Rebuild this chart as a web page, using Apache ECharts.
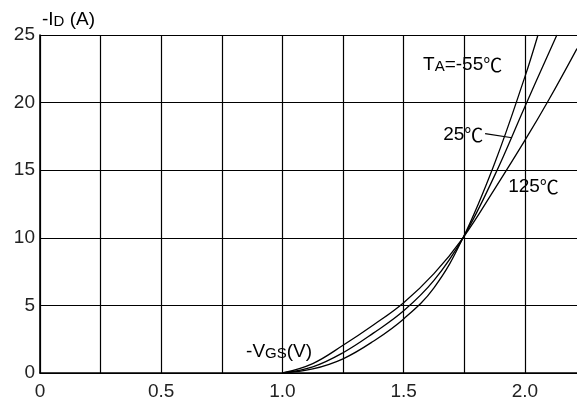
<!DOCTYPE html>
<html>
<head>
<meta charset="utf-8">
<script src="https://cdn.jsdelivr.net/npm/echarts@6/dist/echarts.min.js"></script>
<style>
html,body{margin:0;padding:0;background:#fff;}
#c{width:577px;height:401px;}
</style>
</head>
<body>
<div id="c"></div>
<script>
// -VGS (V) and -ID (A) readings per temperature
const vgs125 = [1.0, 1.125, 1.25, 1.375, 1.5, 1.625, 1.745, 1.875, 2.0, 2.1, 2.215];
const id125  = [0, 0.7, 2.05, 3.55, 5.2, 7.35, 10.0, 13.6, 17.2, 20.25, 24.0];
const vgs25  = [1.0, 1.125, 1.25, 1.375, 1.5, 1.625, 1.745, 1.875, 2.0, 2.132];
const id25   = [0, 0.45, 1.5, 2.95, 4.6, 6.85, 10.0, 14.6, 19.7, 25.0];
const vgsM55 = [1.0, 1.125, 1.25, 1.375, 1.5, 1.625, 1.745, 1.875, 2.0, 2.054];
const idM55  = [0, 0.3, 1.05, 2.35, 4.0, 6.3, 10.0, 15.5, 21.9, 25.0];

const xMin = 0, xMax = 2.215, xStep = 0.25;
const yMin = 0, yMax = 25, yStep = 5;

const zip = (a, b) => a.map((v, i) => [v, b[i]]);
const FONT = '"Liberation Sans", Arial, sans-serif';
const TXT = '#222';

const chart = echarts.init(document.getElementById('c'), null, {renderer: 'canvas'});

const mkSeries = (name, xs, ys) => ({
  name, type: 'line', data: zip(xs, ys), smooth: 0.4,
  showSymbol: false, symbol: 'none',
  lineStyle: {color: '#000', width: 1.3}, clip: true, animation: false
});

// split line colours: hide the one at the max edge
const nXTicks = Math.floor((xMax - xMin) / xStep + 1e-9) + 2;
const xSplitColors = Array.from({length: nXTicks}, (_, i) => i === nXTicks - 1 ? 'rgba(0,0,0,0)' : '#000');

chart.setOption({
  animation: false,
  grid: {left: 40, right: 0, top: 35, bottom: 26, containLabel: false},
  xAxis: {
    type: 'value', min: xMin, max: xMax, interval: xStep,
    axisLine: {show: true, lineStyle: {color: '#000', width: 1.6}},
    axisTick: {show: false},
    splitLine: {show: true, lineStyle: {color: xSplitColors, width: 1.2}},
    axisLabel: {
      margin: 9, color: TXT, fontSize: 19, fontFamily: FONT,
      showMaxLabel: false,
      formatter: v => {
        const r = v / 0.5;
        if (Math.abs(r - Math.round(r)) > 1e-6) return '';
        return v === 0 ? '0' : v.toFixed(1);
      }
    }
  },
  yAxis: {
    type: 'value', min: yMin, max: yMax, interval: yStep,
    axisLine: {show: true, lineStyle: {color: '#000', width: 1.6}},
    axisTick: {show: false},
    splitLine: {show: true, lineStyle: {color: '#000', width: 1.2}},
    axisLabel: {margin: 5, color: TXT, fontSize: 19, fontFamily: FONT}
  },
  series: [
    mkSeries('125', vgs125, id125),
    mkSeries('25', vgs25, id25),
    mkSeries('-55', vgsM55, idM55)
  ]
});

// annotation anchors in data coordinates
const annTA = [1.58, 22.9];
const ann25 = [1.663, 17.7];
const lead25 = [[1.836, 17.7], [1.947, 17.4]];
const ann125 = [1.931, 13.9];
const annVgs = [0.85, 1.7];

const px = p => chart.convertToPixel({gridIndex: 0}, p);
const big = {fontSize: 19, fontFamily: FONT, color: TXT, verticalAlign: 'bottom', lineHeight: 22};
const small = {fontSize: 15, fontFamily: FONT, color: TXT, verticalAlign: 'bottom', lineHeight: 21};
const deg = {fontSize: 19, fontFamily: '"Noto Sans CJK SC", "DejaVu Sans", sans-serif', color: TXT, verticalAlign: 'bottom', lineHeight: 22};

const rt = (pos, text, align) => ({
  type: 'text', x: pos[0], y: pos[1],
  style: {text, rich: {a: big, b: small, d: deg}, align: align || 'left', verticalAlign: 'middle'},
  z: 10
});

const pTA = px(annTA), p25 = px(ann25), p125 = px(ann125), pV = px(annVgs);
const l0 = px(lead25[0]), l1 = px(lead25[1]);
const gridTop = 35;

chart.setOption({
  graphic: [
    rt(pTA, '{a|T}{b|A}{a|=-55}{d|℃}'),
    rt(p25, '{a|25}{d|℃}'),
    rt(p125, '{a|125}{d|℃}'),
    rt(pV, '{a|-V}{b|GS}{a|(V)}'),
    rt([42, gridTop - 17], '{a|-I}{b|D}{a| (A)}'),
    {type: 'line', shape: {x1: l0[0], y1: l0[1], x2: l1[0], y2: l1[1]},
     style: {stroke: '#000', lineWidth: 1.2}, z: 10}
  ]
});
</script>
</body>
</html>
